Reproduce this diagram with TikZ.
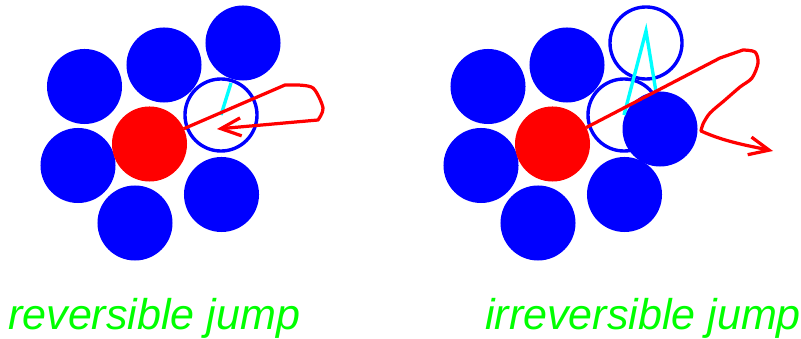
\documentclass[tikz,border=0pt]{standalone}
\usepackage{xcolor}
\usepackage{fontspec}
\usepackage{tikz}
\usetikzlibrary{shapes,arrows.meta,positioning,calc}
\newfontfamily\jumpfont{Liberation Sans}
\definecolor{atom}{HTML}{0000FF}
\definecolor{tracer}{HTML}{FF0000}
\definecolor{bond}{HTML}{00FFFF}
\definecolor{caption}{HTML}{00FF00}

\begin{document}
\begin{tikzpicture}[x=0.025cm, y=-0.025cm,
    atom/.style={circle, fill=atom, minimum size=1.875cm, inner sep=0pt, outer sep=0pt},
    tracer/.style={circle, fill=tracer, minimum size=1.875cm, inner sep=0pt, outer sep=0pt},
    vacancy/.style={circle, draw=atom, line width=2.4pt, minimum size=1.8cm, inner sep=0pt, outer sep=0pt},
    path/.style={draw=tracer, line width=2.3pt, line join=round},
    bond/.style={draw=bond, line width=2.4pt},
    label/.style={font=\jumpfont\itshape\fontsize{30.6}{36}\selectfont, text=caption, anchor=base west, inner sep=0pt}
]
    \useasboundingbox (0,0) rectangle (801,339);

    % reversible jump
    \node[atom] (la) at (84.5,86.5) {};
    \node[atom] (lb) at (164,65) {};
    \node[atom] (lc) at (243,43) {};
    \node[atom] (ld) at (78,165.5) {};
    \node[atom] (le) at (135,223) {};
    \node[atom] (lf) at (221.5,194.5) {};
    \node[tracer] (lt) at (149.5,144) {};
    \node[vacancy] (lv) at (221,115) {};
    \coordinate (lbondend) at (231,83);
    \draw[bond] (lv.center) -- (lbondend);
    \draw[path, -{Straight Barb[length=0.5cm, width=0.45cm]}] (lt.24) -- (285,85)
        -- plot[smooth] coordinates {(295,85) (313,88) (323,108) (318,120)} -- (217,129);

    % irreversible jump
    \node[atom] (ra) at (488,86.5) {};
    \node[atom] (rb) at (567,65) {};
    \node[atom] (rd) at (481,165.5) {};
    \node[atom] (re) at (538,223) {};
    \node[atom] (rf) at (624.5,194.5) {};
    \node[tracer] (rt) at (552.5,144) {};
    \node[vacancy] (rv) at (624,115) {};
    \node[vacancy] (rw) at (646,43) {};
    \node[atom] (rj) at (660,129) {};
    \coordinate (rbondtop) at (646,31);
    \coordinate (rbondend) at (656,92);
    \draw[bond] (rv.center) -- (rbondtop) -- (rbondend);
    \draw[path, -{Straight Barb[length=0.5cm, width=0.45cm]}] (rt.26) -- (720,58)
        -- plot[smooth] coordinates {(743,50) (755,52) (758,63) (752,78) (740,87) (725,100) (710,113) (703,124) (701,131)}
        .. controls (725,142) and (750,146) .. (773,151);

    % captions
    \node[label] (lcap) at (8,329) {reversible jump};
    \node[label] (rcap) at (485,329) {irreversible jump};
\end{tikzpicture}
\end{document}
